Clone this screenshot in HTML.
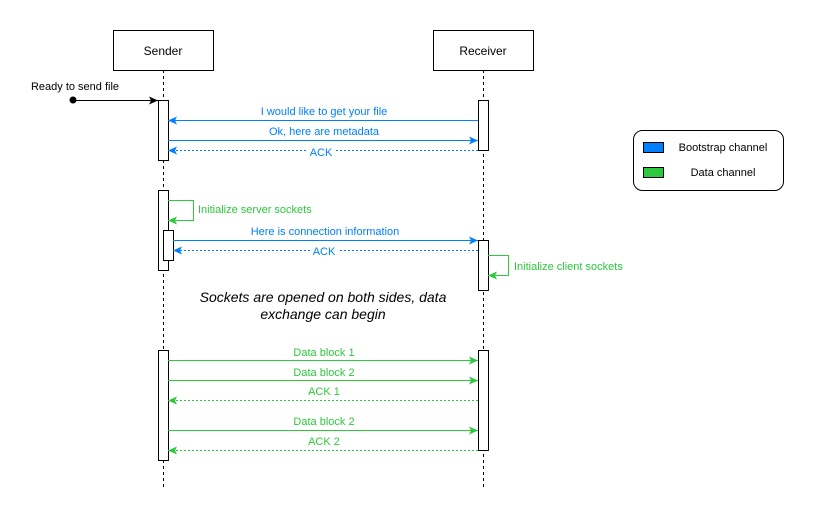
<!DOCTYPE html>
<html><head><meta charset="utf-8"><style>body{margin:0;background:#fff}svg{display:block}text{font-family:"Liberation Sans",sans-serif}</style></head><body>
<svg width="814" height="521" viewBox="0 0 814 521" xmlns="http://www.w3.org/2000/svg">
<defs>
<marker id="ak" markerWidth="10" markerHeight="8" refX="9" refY="4" orient="auto" markerUnits="userSpaceOnUse"><path d="M0,0 L9,4 L0,8 L2,4 Z" fill="#000"/></marker>
<marker id="ab" markerWidth="10" markerHeight="8" refX="9" refY="4" orient="auto" markerUnits="userSpaceOnUse"><path d="M0,0 L9,4 L0,8 L2,4 Z" fill="#007fff"/></marker>
<marker id="ag" markerWidth="10" markerHeight="8" refX="9" refY="4" orient="auto" markerUnits="userSpaceOnUse"><path d="M0,0 L9,4 L0,8 L2,4 Z" fill="#2dc83c"/></marker>
</defs>
<g stroke="#000" fill="#fff">
<line x1="163.5" y1="70" x2="163.5" y2="488" stroke-dasharray="3,3"/>
<line x1="483.5" y1="70" x2="483.5" y2="488" stroke-dasharray="3,3"/>
<rect x="113.5" y="30.5" width="100" height="40"/>
<rect x="433.5" y="30.5" width="100" height="40"/>
<rect x="158.5" y="100.5" width="10" height="60"/>
<rect x="158.5" y="190.5" width="10" height="80"/>
<rect x="163.5" y="230.5" width="10" height="30"/>
<rect x="158.5" y="350.5" width="10" height="110"/>
<rect x="478.5" y="100.5" width="10" height="50"/>
<rect x="478.5" y="240.5" width="10" height="50"/>
<rect x="478.5" y="350.5" width="10" height="100"/>
<rect x="633.5" y="130.5" width="150" height="60" rx="9"/>
</g>
<text x="163" y="55" font-size="12" text-anchor="middle">Sender</text>
<text x="483" y="55" font-size="12" text-anchor="middle">Receiver</text>
<text x="75" y="90" font-size="11" text-anchor="middle">Ready to send file</text>
<circle cx="73" cy="100" r="3.5"/>
<line x1="73" y1="100.5" x2="158" y2="100.5" stroke="#000" marker-end="url(#ak)"/>
<g font-size="11" text-anchor="middle" fill="#007fff">
<line x1="478" y1="120.5" x2="168" y2="120.5" stroke="#007fff" marker-end="url(#ab)"/>
<text x="324" y="115">I would like to get your file</text>
<line x1="168" y1="140.5" x2="478" y2="140.5" stroke="#007fff" marker-end="url(#ab)"/>
<text x="324" y="135">Ok, here are metadata</text>
<line x1="478" y1="150.5" x2="168" y2="150.5" stroke="#007fff" stroke-dasharray="2,2" marker-end="url(#ab)"/>
<rect x="308" y="146" width="28" height="11" fill="#fff"/>
<text x="321" y="156">ACK</text>
<line x1="173" y1="240.5" x2="478" y2="240.5" stroke="#007fff" marker-end="url(#ab)"/>
<text x="325" y="235">Here is connection information</text>
<line x1="478" y1="250.5" x2="173" y2="250.5" stroke="#007fff" stroke-dasharray="2,2" marker-end="url(#ab)"/>
<rect x="311" y="246" width="28" height="11" fill="#fff"/>
<text x="324" y="255">ACK</text>
</g>
<g font-size="11" fill="#2dc83c">
<path d="M168,200.5 H193.5 V220.5 H168" fill="none" stroke="#2dc83c" marker-end="url(#ag)"/>
<text x="198" y="213">Initialize server sockets</text>
<path d="M488,255.5 H508.5 V275.5 H488" fill="none" stroke="#2dc83c" marker-end="url(#ag)"/>
<text x="514" y="270">Initialize client sockets</text>
<g text-anchor="middle">
<line x1="168" y1="360.5" x2="478" y2="360.5" stroke="#2dc83c" marker-end="url(#ag)"/>
<text x="324" y="356">Data block 1</text>
<line x1="168" y1="380.5" x2="478" y2="380.5" stroke="#2dc83c" marker-end="url(#ag)"/>
<text x="324" y="376">Data block 2</text>
<line x1="478" y1="400.5" x2="168" y2="400.5" stroke="#2dc83c" stroke-dasharray="2,2" marker-end="url(#ag)"/>
<text x="324" y="395">ACK 1</text>
<line x1="168" y1="430.5" x2="478" y2="430.5" stroke="#2dc83c" marker-end="url(#ag)"/>
<text x="324" y="425">Data block 2</text>
<line x1="478" y1="450.5" x2="168" y2="450.5" stroke="#2dc83c" stroke-dasharray="2,2" marker-end="url(#ag)"/>
<text x="324" y="445">ACK 2</text>
</g>
</g>
<g font-size="14" font-style="italic" text-anchor="middle">
<text x="323" y="302">Sockets are opened on both sides, data</text>
<text x="323" y="319">exchange can begin</text>
</g>
<rect x="643.5" y="142.5" width="20" height="10" fill="#007fff" stroke="#000"/>
<rect x="643.5" y="167.5" width="20" height="10" fill="#2dc83c" stroke="#000"/>
<text x="723" y="151" font-size="11" text-anchor="middle">Bootstrap channel</text>
<text x="723" y="176" font-size="11" text-anchor="middle">Data channel</text>
</svg>
</body></html>
